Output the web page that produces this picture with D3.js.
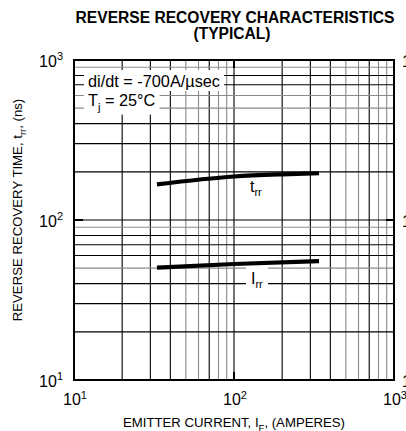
<!DOCTYPE html>
<html><head><meta charset="utf-8">
<script src="https://cdn.jsdelivr.net/npm/d3@7"></script>
<style>body{margin:0;background:#fff}svg{display:block;font-family:"Liberation Sans",Arial,sans-serif}</style>
</head><body>
<svg id="c" width="406" height="431"></svg>
<script>
// data
const trrCurrent = [33, 100, 200, 340];
const trrValues  = [167, 187, 193, 196];
const irrCurrent = [33, 100, 340];
const irrValues  = [50.4, 53.1, 55.4];
const majorTicks = [10, 100, 1000];
const majorLabels = ["1", "2", "3"];
const xMinor = [20,30,40,50,60,70,80,90,200,300,400,500,600,700,800,900];
const xMinorGray = [50,60,80,90,500,600,800,900];
const yMinor = [20,30,40,50,60,70,80,90,200,300,400,500,600,700,800,900];
const yMinorGray = [50,90,500,600,900];

const svg = d3.select("#c");
const L=74,R=394,T=60,B=380;
const x = d3.scaleLog().domain([10,1000]).range([L,R]);
const y = d3.scaleLog().domain([10,1000]).range([B,T]);
const GRAY="#8a8a8a";

// grid
const g = svg.append("g");
g.selectAll(".vx").data(xMinor.concat([100])).join("line")
  .attr("x1",d=>x(d)).attr("x2",d=>x(d)).attr("y1",T).attr("y2",B)
  .attr("stroke",d=>xMinorGray.includes(d)?GRAY:"#000").attr("stroke-width",1.1);
g.selectAll(".hy").data(yMinor.concat([100])).join("line")
  .attr("y1",d=>y(d)).attr("y2",d=>y(d)).attr("x1",L).attr("x2",R)
  .attr("stroke",d=>yMinorGray.includes(d)?GRAY:"#000").attr("stroke-width",1.1);

// major tick marks inside
svg.append("line").attr("x1",L).attr("x2",L+9).attr("y1",y(100)).attr("y2",y(100)).attr("stroke","#000").attr("stroke-width",2);
svg.append("line").attr("x1",R-8).attr("x2",R).attr("y1",y(100)).attr("y2",y(100)).attr("stroke","#000").attr("stroke-width",2);
svg.append("line").attr("x1",x(100)).attr("x2",x(100)).attr("y1",T).attr("y2",T+8).attr("stroke","#000").attr("stroke-width",2);
svg.append("line").attr("x1",x(100)).attr("x2",x(100)).attr("y1",B-8).attr("y2",B).attr("stroke","#000").attr("stroke-width",2);

// frame
svg.append("rect").attr("x",L).attr("y",T).attr("width",R-L).attr("height",B-T)
  .attr("fill","none").attr("stroke","#000").attr("stroke-width",2);

// curves
const line = d3.line().x(d=>x(d[0])).y(d=>y(d[1])).curve(d3.curveMonotoneX);
svg.append("path").datum(d3.zip(trrCurrent,trrValues)).attr("d",line)
  .attr("fill","none").attr("stroke","#000").attr("stroke-width",4.2);
svg.append("path").datum(d3.zip(irrCurrent,irrValues)).attr("d",line)
  .attr("fill","none").attr("stroke","#000").attr("stroke-width",4.2);

// helper: text with subscript
function subText(parent, xx, yy, main, sub, size, subSize, rest, anchor){
  const t = parent.append("text").attr("x",xx).attr("y",yy).attr("font-size",size)
    .attr("text-anchor",anchor||"start");
  t.append("tspan").text(main);
  if(sub){ t.append("tspan").attr("font-size",subSize).attr("dy",size*0.28).text(sub); }
  if(rest){ t.append("tspan").attr("dy",sub?-size*0.28:0).text(rest); }
  return t;
}
function boxed(tnode, pad){
  const bb = tnode.node().getBBox();
  svg.insert("rect", ()=>tnode.node()).attr("x",bb.x-pad[0]).attr("y",bb.y-pad[1])
    .attr("width",bb.width+2*pad[0]).attr("height",bb.height+pad[1]+pad[2]).attr("fill","#fff");
}

// annotations
const a1 = svg.append("text").attr("x",88).attr("y",87).attr("font-size",16.3).text("di/dt = -700A/µsec");
boxed(a1,[4,2,1]);
const a2 = subText(svg,88,106,"T","j",16.3,11," = 25°C");
boxed(a2,[4,1,2]);

subText(svg,250,192,"t","rr",16,11);
const lb = subText(svg,251,284,"I","rr",16,11);
boxed(lb,[5,3,1]);

// tick labels
function powLabel(xx,yy,exp,anchor){
  const t = svg.append("text").attr("x",xx).attr("y",yy).attr("font-size",16).attr("text-anchor",anchor);
  t.append("tspan").text("10");
  t.append("tspan").attr("font-size",11).attr("dy",-6.5).text(exp);
  return t;
}
majorTicks.forEach((v,i)=>{
  powLabel(63, y(v)+6.5, majorLabels[i], "end");
  powLabel(x(v)+1, 405, majorLabels[i], "middle");
  powLabel(402, y(v)+6.5, majorLabels[i], "start");
});

// titles
svg.append("text").attr("x",235).attr("y",23).attr("font-size",15.6).attr("font-weight","bold")
  .attr("text-anchor","middle").text("REVERSE RECOVERY CHARACTERISTICS");
svg.append("text").attr("x",232).attr("y",39).attr("font-size",15.6).attr("font-weight","bold")
  .attr("text-anchor","middle").text("(TYPICAL)");

subText(svg,234,427,"EMITTER CURRENT, I","F",13.2,9.5,", (AMPERES)","middle");

const yt = svg.append("text").attr("transform","translate(22,210) rotate(-90)")
  .attr("font-size",13.2).attr("text-anchor","middle");
yt.append("tspan").text("REVERSE RECOVERY TIME, t");
yt.append("tspan").attr("font-size",9.5).attr("dy",3.5).text("rr");
yt.append("tspan").attr("dy",-3.5).text(", (ns)");
</script>
</body></html>
